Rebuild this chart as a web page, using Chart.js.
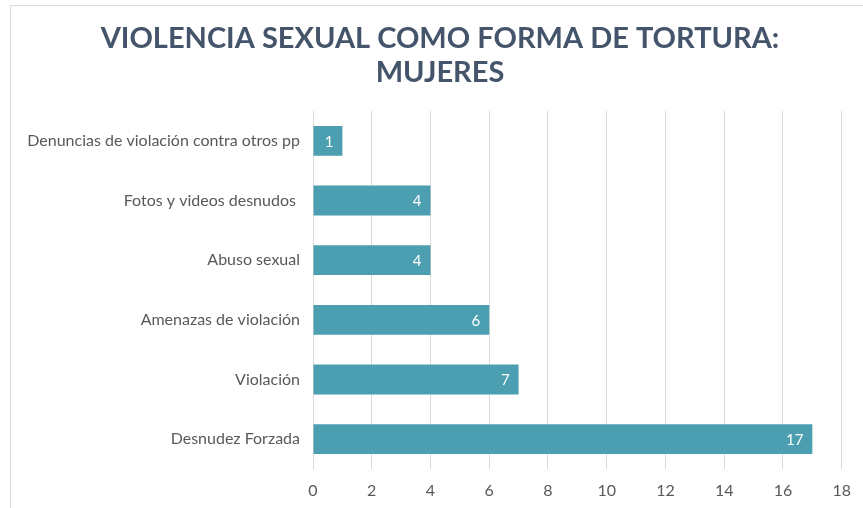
<!DOCTYPE html>
<html>
<head>
<meta charset="utf-8">
<script src="https://cdn.jsdelivr.net/npm/chart.js@4"></script>
<style>
    html, body { margin: 0; padding: 0; background: #fff; }
    #wrap { position: relative; width: 863px; height: 508px; overflow: hidden; }
    #frame { position: absolute; left: 10px; top: 5px; width: 1000px; height: 700px; border: 1px solid #dcdcdc; }
    #chart { position: absolute; left: 0; top: 0; }
</style>
</head>
<body>
<div id="wrap">
    <div id="frame"></div>
    <canvas id="chart" width="863" height="508"></canvas>
</div>
<script>
const titleLines = ['VIOLENCIA SEXUAL COMO FORMA DE TORTURA:', 'MUJERES'];
const categories = [
    'Denuncias de violación contra otros pp',
    'Fotos y videos desnudos ',
    'Abuso sexual',
    'Amenazas de violación',
    'Violación',
    'Desnudez Forzada'
];
const counts = [1, 4, 4, 6, 7, 17];
const xTicks = [0, 2, 4, 6, 8, 10, 12, 14, 16, 18];

const barColor = '#4b9fb0';
const textGray = '#595959';

// white value labels drawn inside the end of each bar
const valueLabels = {
    id: 'valueLabels',
    afterDatasetsDraw(chart) {
        const ctx = chart.ctx;
        const meta = chart.getDatasetMeta(0);
        ctx.save();
        ctx.font = '15px Lato';
        ctx.fillStyle = '#ffffff';
        ctx.textAlign = 'right';
        ctx.textBaseline = 'middle';
        meta.data.forEach((bar, i) => {
            ctx.fillText(String(counts[i]), bar.x - 9, bar.y + 1);
        });
        ctx.restore();
    }
};

// title sits centred on the frame, a bit right of the canvas centre
const shiftTitle = {
    id: 'shiftTitle',
    afterLayout(chart) {
        if (chart.titleBlock) chart.titleBlock.left = 38;
    }
};

new Chart(document.getElementById('chart'), {
    type: 'bar',
    data: {
        labels: categories,
        datasets: [{
            data: counts,
            backgroundColor: barColor,
            barPercentage: 0.5,
            categoryPercentage: 1.0
        }]
    },
    options: {
        indexAxis: 'y',
        responsive: false,
        animation: false,
        layout: { padding: { left: 0, right: 21, top: 0, bottom: 0 } },
        plugins: {
            legend: { display: false },
            tooltip: { enabled: false },
            title: {
                display: true,
                text: titleLines,
                color: '#44546a',
                font: { family: 'Lato', size: 29, weight: 'bold', lineHeight: '34px' },
                padding: { top: 22, bottom: 21 }
            }
        },
        scales: {
            x: {
                min: 0,
                max: 18,
                afterBuildTicks(scale) {
                    scale.ticks = xTicks.map(v => ({ value: v }));
                },
                afterFit(scale) { scale.height = 39; },
                grid: { color: '#d9d9d9', drawTicks: false },
                border: { display: false },
                ticks: {
                    color: textGray,
                    padding: 12,
                    font: { family: 'Lato', size: 16 }
                }
            },
            y: {
                afterFit(scale) { scale.width = 313; },
                grid: { display: false, drawTicks: false },
                border: { display: true, color: '#d9d9d9' },
                ticks: {
                    color: textGray,
                    padding: 13,
                    font: { family: 'Lato', size: 16 }
                }
            }
        }
    },
    plugins: [valueLabels, shiftTitle]
});
</script>
</body>
</html>
